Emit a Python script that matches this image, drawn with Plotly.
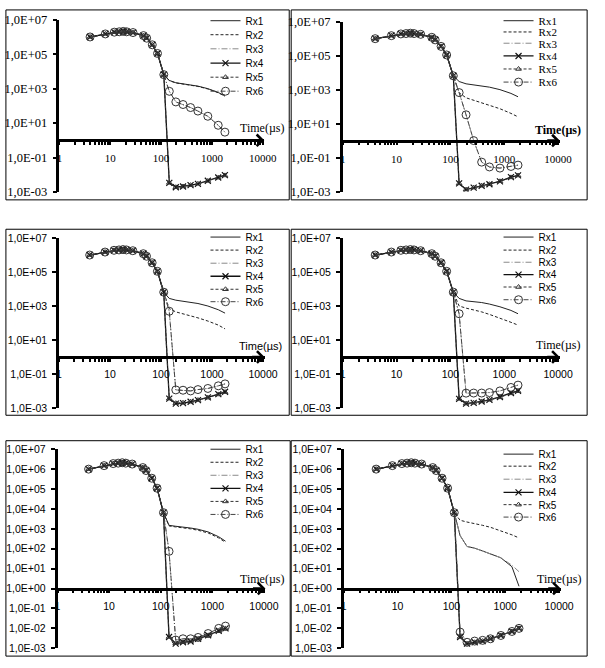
import plotly.graph_objects as go

W, H = 605, 668

# ---------------- data ----------------
time_us = [4, 8, 12, 15, 18, 21, 28, 45, 52, 67, 85, 113, 145, 195, 270, 380, 530, 830, 1330, 1800]
series_names = ["Rx1", "Rx2", "Rx3", "Rx4", "Rx5", "Rx6"]

# common early-time response (t = 4 ... 113 us)
early = [1.0e6, 1.5e6, 1.9e6, 2.0e6, 2.1e6, 2.0e6, 1.8e6, 1.2e6, 8.5e5, 3.5e5, 1.1e5, 6.5e3]

# late-time values (t = 145 ... 1800 us) for each panel
a_rx1 = [3.0e3, 2.2e3, 1.9e3, 1.7e3, 1.4e3, 1.0e3, 600, 380]
a_rx2 = [2.9e3, 2.15e3, 1.85e3, 1.65e3, 1.35e3, 960, 580, 365]
a_rx3 = [700, 170, 120, 80, 50, 25, 7.5, 3]
a_rx4 = [3.4e-3, 1.9e-3, 2.1e-3, 2.5e-3, 3.0e-3, 4.5e-3, 7.0e-3, 9.5e-3]
a_rx5 = [3.4e-3, 1.9e-3, 2.1e-3, 2.5e-3, 3.0e-3, 4.4e-3, 6.8e-3, 9.2e-3]
a_rx6 = [700, 170, 120, 80, 50, 25, 7.5, 3]

b_rx1 = [3.0e3, 2.2e3, 1.9e3, 1.7e3, 1.4e3, 1.0e3, 600, 380]
b_rx2 = [650, 330, 240, 170, 125, 75, 40, 25]
b_rx3 = [670, 33, 1.0, 0.054, 0.028, 0.024, 0.03, 0.036]
b_rx4 = [3.0e-3, 1.3e-3, 1.7e-3, 2.2e-3, 2.7e-3, 4.0e-3, 7.0e-3, 9.0e-3]
b_rx5 = [3.0e-3, 1.3e-3, 1.7e-3, 2.2e-3, 2.7e-3, 4.0e-3, 6.8e-3, 8.8e-3]
b_rx6 = [670, 33, 1.0, 0.054, 0.028, 0.024, 0.03, 0.036]

c_rx1 = [2.8e3, 2.2e3, 1.9e3, 1.6e3, 1.4e3, 1.0e3, 600, 380]
c_rx2 = [700, 450, 350, 270, 200, 130, 75, 45]
c_rx3 = [490, 0.0115, 0.011, 0.010, 0.012, 0.014, 0.02, 0.026]
c_rx4 = [3.5e-3, 1.8e-3, 1.9e-3, 2.3e-3, 2.9e-3, 4.2e-3, 6.5e-3, 9.0e-3]
c_rx5 = [3.5e-3, 1.9e-3, 2.0e-3, 2.3e-3, 2.9e-3, 4.0e-3, 6.2e-3, 8.5e-3]
c_rx6 = [490, 0.0115, 0.011, 0.010, 0.012, 0.014, 0.02, 0.026]

d_rx1 = [2.8e3, 2.0e3, 1.8e3, 1.6e3, 1.3e3, 900, 550, 350]
d_rx2 = [1000, 750, 600, 450, 320, 200, 110, 75]
d_rx3 = [350, 0.0074, 0.0075, 0.0075, 0.008, 0.010, 0.016, 0.022]
d_rx4 = [3.4e-3, 1.8e-3, 2.0e-3, 2.4e-3, 3.0e-3, 4.4e-3, 7.6e-3, 1.0e-2]
d_rx5 = [3.4e-3, 1.8e-3, 2.0e-3, 2.4e-3, 3.0e-3, 4.2e-3, 7.2e-3, 9.6e-3]
d_rx6 = [350, 0.0074, 0.0075, 0.0075, 0.008, 0.010, 0.016, 0.022]

e_rx1 = [1.5e3, 1.35e3, 1.25e3, 1.1e3, 950, 700, 400, 240]
e_rx2 = [1.4e3, 1.25e3, 1.15e3, 1.0e3, 850, 620, 350, 210]
e_rx3 = [74, 2.6e-3, 3.0e-3, 3.0e-3, 3.5e-3, 5.5e-3, 0.010, 0.013]
e_rx4 = [3.7e-3, 1.7e-3, 2.0e-3, 2.2e-3, 3.0e-3, 4.5e-3, 7.6e-3, 1.0e-2]
e_rx5 = [3.7e-3, 1.8e-3, 2.0e-3, 2.3e-3, 3.0e-3, 4.4e-3, 7.2e-3, 9.5e-3]
e_rx6 = [74, 2.6e-3, 3.0e-3, 3.0e-3, 3.5e-3, 5.5e-3, 0.010, 0.013]

f_rx1 = [460, 130, 107, 77, 56, 35, 12.5, 1.3]
f_rx2 = [2.7e3, 2.2e3, 1.9e3, 1.5e3, 1.2e3, 800, 500, 350]
f_rx3 = [460, 130, 107, 77, 56, 35, 15, 7]
f_rx4 = [3.7e-3, 1.7e-3, 2.0e-3, 2.3e-3, 3.0e-3, 4.4e-3, 7.0e-3, 1.0e-2]
f_rx5 = [3.7e-3, 1.7e-3, 2.0e-3, 2.3e-3, 3.0e-3, 4.4e-3, 7.0e-3, 1.0e-2]
f_rx6 = [6.5e-3, 2.0e-3, 2.3e-3, 2.5e-3, 3.0e-3, 4.4e-3, 7.0e-3, 1.0e-2]

panel_late = [
    [a_rx1, a_rx2, a_rx3, a_rx4, a_rx5, a_rx6],
    [b_rx1, b_rx2, b_rx3, b_rx4, b_rx5, b_rx6],
    [c_rx1, c_rx2, c_rx3, c_rx4, c_rx5, c_rx6],
    [d_rx1, d_rx2, d_rx3, d_rx4, d_rx5, d_rx6],
    [e_rx1, e_rx2, e_rx3, e_rx4, e_rx5, e_rx6],
    [f_rx1, f_rx2, f_rx3, f_rx4, f_rx5, f_rx6],
]

x_tickvals = [1, 10, 100, 1000, 10000]
x_ticktext = ["1", "10", "100", "1000", "10000"]
y_tickvals_2 = [1e-3, 1e-1, 1e1, 1e3, 1e5, 1e7]
y_ticktext_2 = ["1,0E-03", "1,0E-01", "1,0E+01", "1,0E+03", "1,0E+05", "1,0E+07"]
y_tickvals_1 = [1e-3, 1e-2, 1e-1, 1e0, 1e1, 1e2, 1e3, 1e4, 1e5, 1e6, 1e7]
y_ticktext_1 = ["1,0E-03", "1,0E-02", "1,0E-01", "1,0E+00", "1,0E+01", "1,0E+02",
                "1,0E+03", "1,0E+04", "1,0E+05", "1,0E+06", "1,0E+07"]
x_title = "Time(µs)"

# ---------------- layout geometry (pixels) ----------------
SERIF = "Liberation Serif, Times New Roman, serif"
SANS = "Liberation Sans, Arial, sans-serif"
XR = 4.03  # log10 of the right end of the time axis

panels = [
    dict(box=(3, 3, 294, 197), axx=58, dec=52.2, ytop=13, ybot=189, dense=False,
         lx=208, rows=[14, 28.3, 42.7, 57.3, 71.7, 86], lfont=(SANS, 10),
         tfont=(SERIF, 11), yfont=(SERIF, 12.5), title=(266, 124, SERIF, 12, False)),
    dict(box=(296, 3, 600, 197), axx=349, dec=55.3, ytop=15, ybot=188.5, dense=False,
         lx=509, rows=[14, 25.5, 37, 50, 63.3, 76.7], lfont=(SERIF, 11),
         tfont=(SERIF, 11), yfont=(SERIF, 12.5), title=(570, 126, SERIF, 12, True)),
    dict(box=(3, 227, 294, 417), axx=57.5, dec=52.4, ytop=236, ybot=409.5, dense=False,
         lx=208, rows=[235, 248.3, 261.7, 275, 288.3, 301], lfont=(SANS, 10),
         tfont=(SANS, 10.5), yfont=(SANS, 10.5), title=(265, 346, SANS, 11, False)),
    dict(box=(296, 227, 600, 417), axx=349, dec=55.3, ytop=236, ybot=409.5, dense=False,
         lx=509, rows=[235, 248.3, 260.7, 273.3, 286, 299], lfont=(SANS, 10),
         tfont=(SANS, 10.5), yfont=(SANS, 10.5), title=(570, 345, SERIF, 12, False)),
    dict(box=(3, 443, 295, 663), axx=56, dec=53, ytop=451.7, ybot=655, dense=True,
         lx=208, rows=[451.7, 465, 478.3, 491.7, 505, 518.3], lfont=(SANS, 10),
         tfont=(SANS, 10.5), yfont=(SANS, 10.5), title=(266, 584, SERIF, 12, False)),
    dict(box=(296, 443, 600, 663), axx=350, dec=55.3, ytop=451.7, ybot=655, dense=True,
         lx=509, rows=[456.7, 469, 482.3, 495.7, 508.3, 521], lfont=(SANS, 10),
         tfont=(SANS, 10.5), yfont=(SANS, 10.5), title=(571, 584, SERIF, 12, False)),
]

styles = [
    dict(mode="lines", line=dict(color="#222222", width=1)),
    dict(mode="lines", line=dict(color="#222222", width=1, dash="3px,2px")),
    dict(mode="lines", line=dict(color="#8a8a8a", width=1, dash="6px,2px,1px,2px")),
    dict(mode="lines+markers", line=dict(color="#111111", width=1.3),
         marker=dict(symbol="x-thin", size=6, color="#111111", line=dict(width=1.2, color="#111111"))),
    dict(mode="lines+markers", line=dict(color="#333333", width=1, dash="3px,2px"),
         marker=dict(symbol="triangle-up-open", size=5, color="#333333", line=dict(width=1))),
    dict(mode="lines+markers", line=dict(color="#444444", width=1, dash="5px,2px,1px,2px"),
         marker=dict(symbol="circle-open", size=8, color="#333333", line=dict(width=1))),
]


def px_x(v):
    return v / W


def px_y(v):
    return 1 - v / H


fig = go.Figure()
layout = dict(width=W, height=H, autosize=False, margin=dict(l=0, r=0, t=0, b=0),
              paper_bgcolor="white", plot_bgcolor="rgba(0,0,0,0)", showlegend=True,
              shapes=[], annotations=[])

for i, p in enumerate(panels):
    n = i + 1
    xa = "xaxis" if n == 1 else f"xaxis{n}"
    ya = "yaxis" if n == 1 else f"yaxis{n}"
    xr = "x" if n == 1 else f"x{n}"
    yr = "y" if n == 1 else f"y{n}"

    x0 = p["axx"]
    x1 = p["axx"] + p["dec"] * XR
    y_line = p["ybot"] - 0.3 * (p["ybot"] - p["ytop"])

    layout[xa] = dict(
        type="log", range=[0, XR], domain=[px_x(x0), px_x(x1)], anchor="free",
        position=px_y(y_line), showline=True, linecolor="black", linewidth=2.5,
        showgrid=False, zeroline=False, ticks="outside", ticklen=3, tickwidth=2,
        tickcolor="black", tickvals=x_tickvals, ticktext=x_ticktext,
        tickfont=dict(family=p["tfont"][0], size=p["tfont"][1], color="black"),
        ticklabelstandoff=4,
        minor=dict(ticks="outside", ticklen=3, tickwidth=2, tickcolor="black", dtick="D1", showgrid=False),
    )
    layout[ya] = dict(
        type="log", range=[-3, 7], domain=[px_y(p["ybot"]), px_y(p["ytop"])], anchor=xr,
        showline=True, linecolor="black", linewidth=2.5, showgrid=False, zeroline=False,
        ticks="outside", ticklen=4, tickwidth=2, tickcolor="black",
        tickvals=y_tickvals_1 if p["dense"] else y_tickvals_2,
        ticktext=y_ticktext_1 if p["dense"] else y_ticktext_2,
        tickfont=dict(family=p["yfont"][0], size=p["yfont"][1], color="black"),
        ticklabelstandoff=3,
    )

    for j, name in enumerate(series_names):
        k = i * 6 + j + 1
        lg = "legend" if k == 1 else f"legend{k}"
        st = styles[j]
        tr = dict(x=time_us, y=early + panel_late[i][j], name=name, xaxis=xr, yaxis=yr,
                  legend=lg, mode=st["mode"], line=st["line"], hoverinfo="skip")
        if "marker" in st:
            tr["marker"] = st["marker"]
        fig.add_trace(go.Scatter(**tr))
        layout[lg] = dict(x=px_x(p["lx"]), y=px_y(p["rows"][j]), xanchor="left", yanchor="middle",
                          bgcolor="rgba(0,0,0,0)", borderwidth=0, itemwidth=30,
                          font=dict(family=p["lfont"][0], size=p["lfont"][1], color="black"))

    # panel frame
    bx0, by0, bx1, by1 = p["box"]
    layout["shapes"].append(dict(type="rect", xref="paper", yref="paper",
                                 x0=px_x(bx0), x1=px_x(bx1), y0=px_y(by1), y1=px_y(by0),
                                 line=dict(color="black", width=1), layer="below"))
    # axis arrowheads
    layout["annotations"].append(dict(xref=xr, yref=yr, x=0, y=7.05, ax=0, ay=14, text="",
                                      showarrow=True, arrowhead=4, arrowsize=0.9, arrowwidth=2.5,
                                      arrowcolor="black"))
    layout["annotations"].append(dict(xref=xr, yref=yr, x=XR, y=0, ax=-14, ay=0, text="",
                                      showarrow=True, arrowhead=4, arrowsize=0.9, arrowwidth=2.5,
                                      arrowcolor="black"))
    tx, ty, tfam, tsize, tbold = p["title"]
    layout["annotations"].append(dict(xref="paper", yref="paper", x=px_x(tx), y=px_y(ty),
                                      xanchor="center", yanchor="middle", showarrow=False,
                                      text=f"<b>{x_title}</b>" if tbold else x_title,
                                      font=dict(family=tfam, size=tsize, color="black")))

fig.update_layout(**layout)
fig.write_html("out.html", config={"displayModeBar": False},
               post_script="document.body.style.margin='0px';document.body.style.overflow='hidden';")
